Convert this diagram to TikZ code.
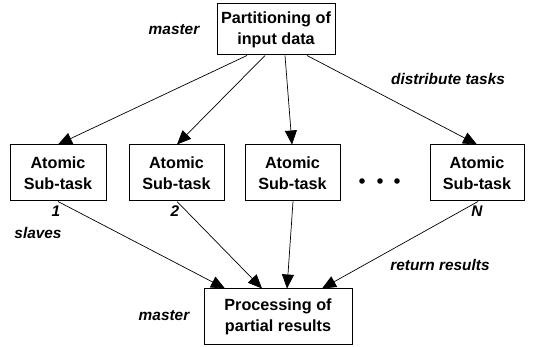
\documentclass[tikz,border=0pt]{standalone}
\usepackage{fontspec}
\setmainfont{Liberation Sans}
\usetikzlibrary{arrows.meta}
\begin{document}
\begin{tikzpicture}[x=1pt,y=-1pt,
  box/.style={draw, line width=1pt, minimum height=0pt, inner sep=0pt,
    align=center, font=\fontsize{16.2}{21}\selectfont\bfseries},
  lbl/.style={font=\fontsize{15.4}{17}\selectfont\bfseries\itshape, inner sep=0pt},
  arr/.style={line width=0.7pt, -{Triangle[length=14pt,width=12pt]}}]
\useasboundingbox (0,0) rectangle (546,347);
% boxes drawn as fixed rectangles with centred text
\node[box, minimum width=118pt, minimum height=51pt] (top) at (276,29.5) {Partitioning of\\input data};
\node[box, minimum width=96pt, minimum height=56pt] (a1) at (58,173) {Atomic\\Sub-task};
\node[box, minimum width=95pt, minimum height=56pt] (a2) at (176.5,173) {Atomic\\Sub-task};
\node[box, minimum width=95pt, minimum height=56pt] (a3) at (292.5,173) {Atomic\\Sub-task};
\node[box, minimum width=94pt, minimum height=56pt] (aN) at (477,173) {Atomic\\Sub-task};
\node[box, minimum width=148pt, minimum height=55pt] (bot) at (278,316.5) {Processing of\\partial results};
% ellipsis between the sub-tasks
\foreach \x in {362,380,397} \fill (\x,181) circle (2.8pt);
% labels
\node[lbl] (m1) at (174,30) {master};
\node[lbl] (dt) at (448,79) {distribute tasks};
\node[lbl] (n1) at (56,211) {1};
\node[lbl] (n2) at (175,211) {2};
\node[lbl] (nN) at (477,211) {N};
\node[lbl] (sl) at (38,233) {slaves};
\node[lbl] (rr) at (440,265) {return results};
\node[lbl] (m2) at (164,316) {master};
% distribution arrows
\draw[arr] (top.south -| 247,0) -- (a1.north -| 58,0);
\draw[arr] (top.south -| 265,0) -- (a2.north -| 177,0);
\draw[arr] (top.south -| 285,0) -- (a3.north -| 292,0);
\draw[arr] (top.south -| 307,0) -- (aN.north -| 477,0);
% result arrows
\draw[arr] (a1.south -| 58,0) -- (bot.north -| 225,0);
\draw[arr] (a2.south -| 177,0) -- (bot.north -| 262,0);
\draw[arr] (a3.south -| 293,0) -- (bot.north -| 287,0);
\draw[arr] (aN.south -| 478,0) -- (bot.north -| 322,0);
\end{tikzpicture}
\end{document}
